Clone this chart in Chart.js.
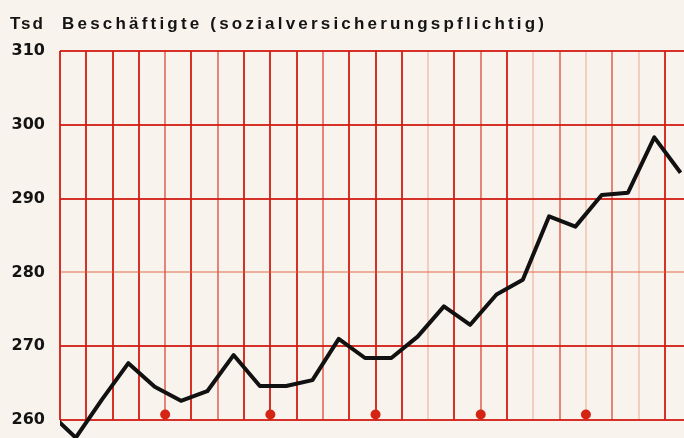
<!DOCTYPE html>
<html>
<head>
<meta charset="utf-8">
<script src="https://cdn.jsdelivr.net/npm/chart.js@4/dist/chart.umd.min.js"></script>
<style>
    html, body { margin: 0; padding: 0; background: #f8f3ed; }
    #wrap { position: relative; width: 684px; height: 438px; overflow: hidden; }
    .label { position: absolute; top: 14px; font: bold 17px "Liberation Sans", Arial, sans-serif; color: #141414; white-space: nowrap; z-index: 2; }
    #unit { left: 10px; letter-spacing: 2px; }
    #title { left: 62px; letter-spacing: 3.2px; }
    canvas { position: absolute; left: 0; top: 0; }
</style>
</head>
<body>
<div id="wrap">
    <div class="label" id="unit">Tsd</div>
    <div class="label" id="title">Beschäftigte (sozialversicherungspflichtig)</div>
    <!-- a little wider than the page: the grid runs off the right edge like the print -->
    <canvas id="chart" width="689" height="438"></canvas>
</div>
<script>
// Quarter index of each reading (grid lines are quarter boundaries)
const quarterIndex = [-1, 0, 1, 2, 3, 4, 5, 6, 7, 8, 9, 10, 11, 12, 13, 14, 15, 16, 17, 18, 19, 20, 21, 22, 23];
// Beschäftigte in Tsd
const employees = [261.0, 257.6, 262.8, 267.7, 264.5, 262.6, 263.9, 268.8, 264.6, 264.6, 265.4, 271.0,
                   268.4, 268.4, 271.3, 275.4, 272.9, 277.0, 279.0, 287.6, 286.2, 290.5, 290.8, 298.3, 293.5];
// Year markers (red dots on the base line)
const yearMarks = [4, 8, 12, 16, 20];
// Axis ticks
const yTicks = [260, 270, 280, 290, 300, 310];
const gridQuarters = [0, 1, 2, 3, 4, 5, 6, 7, 8, 9, 10, 11, 12, 13, 14, 15, 16, 17, 18, 19, 20, 21, 22, 23];

const POINT_SHIFT = 0.6;   // readings sit a little after each grid line
const MARK_LEVEL = 260.75;

// Grid line strength per vertical line (the printed grid is uneven)
const FAINT_X = [14, 18, 20, 22];
const LIGHT_X = [4, 6, 10, 16, 19, 21];

function xGridColor(ctx) {
    const v = ctx.tick ? ctx.tick.value : 0;
    if (FAINT_X.includes(v)) return 'rgba(225, 110, 80, 0.28)';
    if (LIGHT_X.includes(v)) return 'rgba(218, 60, 40, 0.6)';
    return 'rgba(208, 28, 18, 0.9)';
}

function yGridColor(ctx) {
    const v = ctx.tick ? ctx.tick.value : 0;
    if (v === 280) return 'rgba(222, 90, 60, 0.45)';
    return 'rgba(208, 28, 18, 0.9)';
}

const ctx = document.getElementById('chart');

new Chart(ctx, {
    type: 'line',
    data: {
        datasets: [
            {
                data: quarterIndex.map((q, i) => ({ x: q + POINT_SHIFT, y: employees[i] })),
                borderColor: '#111111',
                borderWidth: 4,
                borderJoinStyle: 'round',
                pointRadius: 0,
                tension: 0,
                clip: { left: 0, top: 0, right: 0, bottom: 20 },
                order: 1
            },
            {
                type: 'scatter',
                data: yearMarks.map(q => ({ x: q, y: MARK_LEVEL })),
                pointStyle: 'circle',
                pointRadius: 5,
                backgroundColor: '#d42414',
                borderWidth: 0,
                order: 2
            }
        ]
    },
    options: {
        responsive: false,
        animation: false,
        layout: { padding: { top: 51, bottom: 18, left: 0, right: 0 } },
        plugins: {
            legend: { display: false },
            tooltip: { enabled: false }
        },
        scales: {
            x: {
                type: 'linear',
                min: 0,
                max: 23.73,
                afterBuildTicks: axis => { axis.ticks = gridQuarters.map(v => ({ value: v })); },
                afterFit: axis => { axis.height = 0; },
                ticks: { display: false },
                grid: { color: xGridColor, lineWidth: 2, drawTicks: false },
                border: { display: false }
            },
            y: {
                min: 260,
                max: 310,
                afterBuildTicks: axis => { axis.ticks = yTicks.map(v => ({ value: v })); },
                afterFit: axis => {
                    axis.width = 60;
                    axis.paddingTop = 0;
                    axis.paddingBottom = 0;
                },
                ticks: {
                    color: '#141414',
                    padding: 15,
                    font: { family: 'DejaVu Sans', weight: 'bold', size: 16 }
                },
                grid: { color: yGridColor, lineWidth: 2, drawTicks: false },
                border: { display: false }
            }
        }
    }
});
</script>
</body>
</html>
